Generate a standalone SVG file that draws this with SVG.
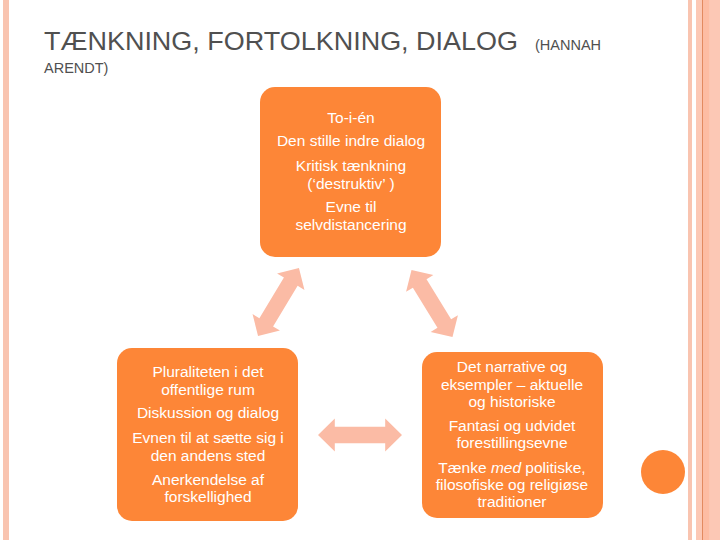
<svg xmlns="http://www.w3.org/2000/svg" width="720" height="540" viewBox="0 0 720 540">
<style>
.title{font-family:"Liberation Sans",Arial,sans-serif;fill:#505050}
.box{fill:#FD8637}
.t{font-family:"Liberation Sans",Arial,sans-serif;font-size:15.5px;fill:#FFFFFF;text-anchor:middle}
.arr{fill:#FBBBA5}
</style>
<defs>
<path id="dbl" d="M-40,0 L-24,-16 L-24,-8 L24,-8 L24,-16 L40,0 L24,16 L24,8 L-24,8 L-24,16 Z"/>
</defs>
<rect x="0" y="0" width="720" height="540" fill="#FFFFFF"/>
<g id="frame">
<rect x="3" y="0" width="6" height="540" fill="#F9C4B0"/>
<rect x="688" y="0" width="4" height="540" fill="#F9C4B0"/>
<rect x="696" y="0" width="24" height="540" fill="#FCC8B5"/>
<rect x="702" y="0" width="1.2" height="540" fill="#E38A60"/>
<rect x="703.2" y="0" width="6" height="540" fill="#FDBCA3"/>
<circle cx="663" cy="472" r="22" fill="#FD8637"/>
</g>
<g id="title">
<text class="title" x="44" y="50" font-size="26" textLength="474" lengthAdjust="spacingAndGlyphs">TÆNKNING, FORTOLKNING, DIALOG</text>
<text class="title" x="535" y="50" font-size="14.5">(HANNAH</text>
<text class="title" x="44" y="73" font-size="14.5">ARENDT)</text>
</g>
<g id="connectors" class="arr">
<use href="#dbl" transform="translate(278.5,302) rotate(-58.9) scale(0.99,1)"/>
<use href="#dbl" transform="translate(432,303.5) rotate(58.5) scale(0.98,1)"/>
<use href="#dbl" transform="translate(360,435) scale(1.05,1.03)"/>
</g>
<g id="node-top">
<rect class="box" x="260" y="87" width="181" height="170" rx="15"/>
<text class="t" x="351" y="123">To-i-én</text>
<text class="t" x="351" y="146">Den stille indre dialog</text>
<text class="t" x="351" y="171">Kritisk tænkning</text>
<text class="t" x="351" y="189">(‘destruktiv’ )</text>
<text class="t" x="351" y="212">Evne til</text>
<text class="t" x="351" y="230">selvdistancering</text>
</g>
<g id="node-left">
<rect class="box" x="117" y="348" width="181" height="173" rx="15"/>
<text class="t" x="208" y="377">Pluraliteten i det</text>
<text class="t" x="208" y="395">offentlige rum</text>
<text class="t" x="208" y="418">Diskussion og dialog</text>
<text class="t" x="208" y="443">Evnen til at sætte sig i</text>
<text class="t" x="208" y="461">den andens sted</text>
<text class="t" x="208" y="485">Anerkendelse af</text>
<text class="t" x="208" y="502">forskellighed</text>
</g>
<g id="node-right">
<rect class="box" x="422" y="352" width="181" height="166" rx="15"/>
<text class="t" x="512" y="372">Det narrative og</text>
<text class="t" x="512" y="390">eksempler – aktuelle</text>
<text class="t" x="512" y="407">og historiske</text>
<text class="t" x="512" y="431">Fantasi og udvidet</text>
<text class="t" x="512" y="448">forestillingsevne</text>
<text class="t" x="512" y="473">Tænke <tspan font-style="italic">med</tspan> politiske,</text>
<text class="t" x="512" y="490">filosofiske og religiøse</text>
<text class="t" x="512" y="507">traditioner</text>
</g>
</svg>
